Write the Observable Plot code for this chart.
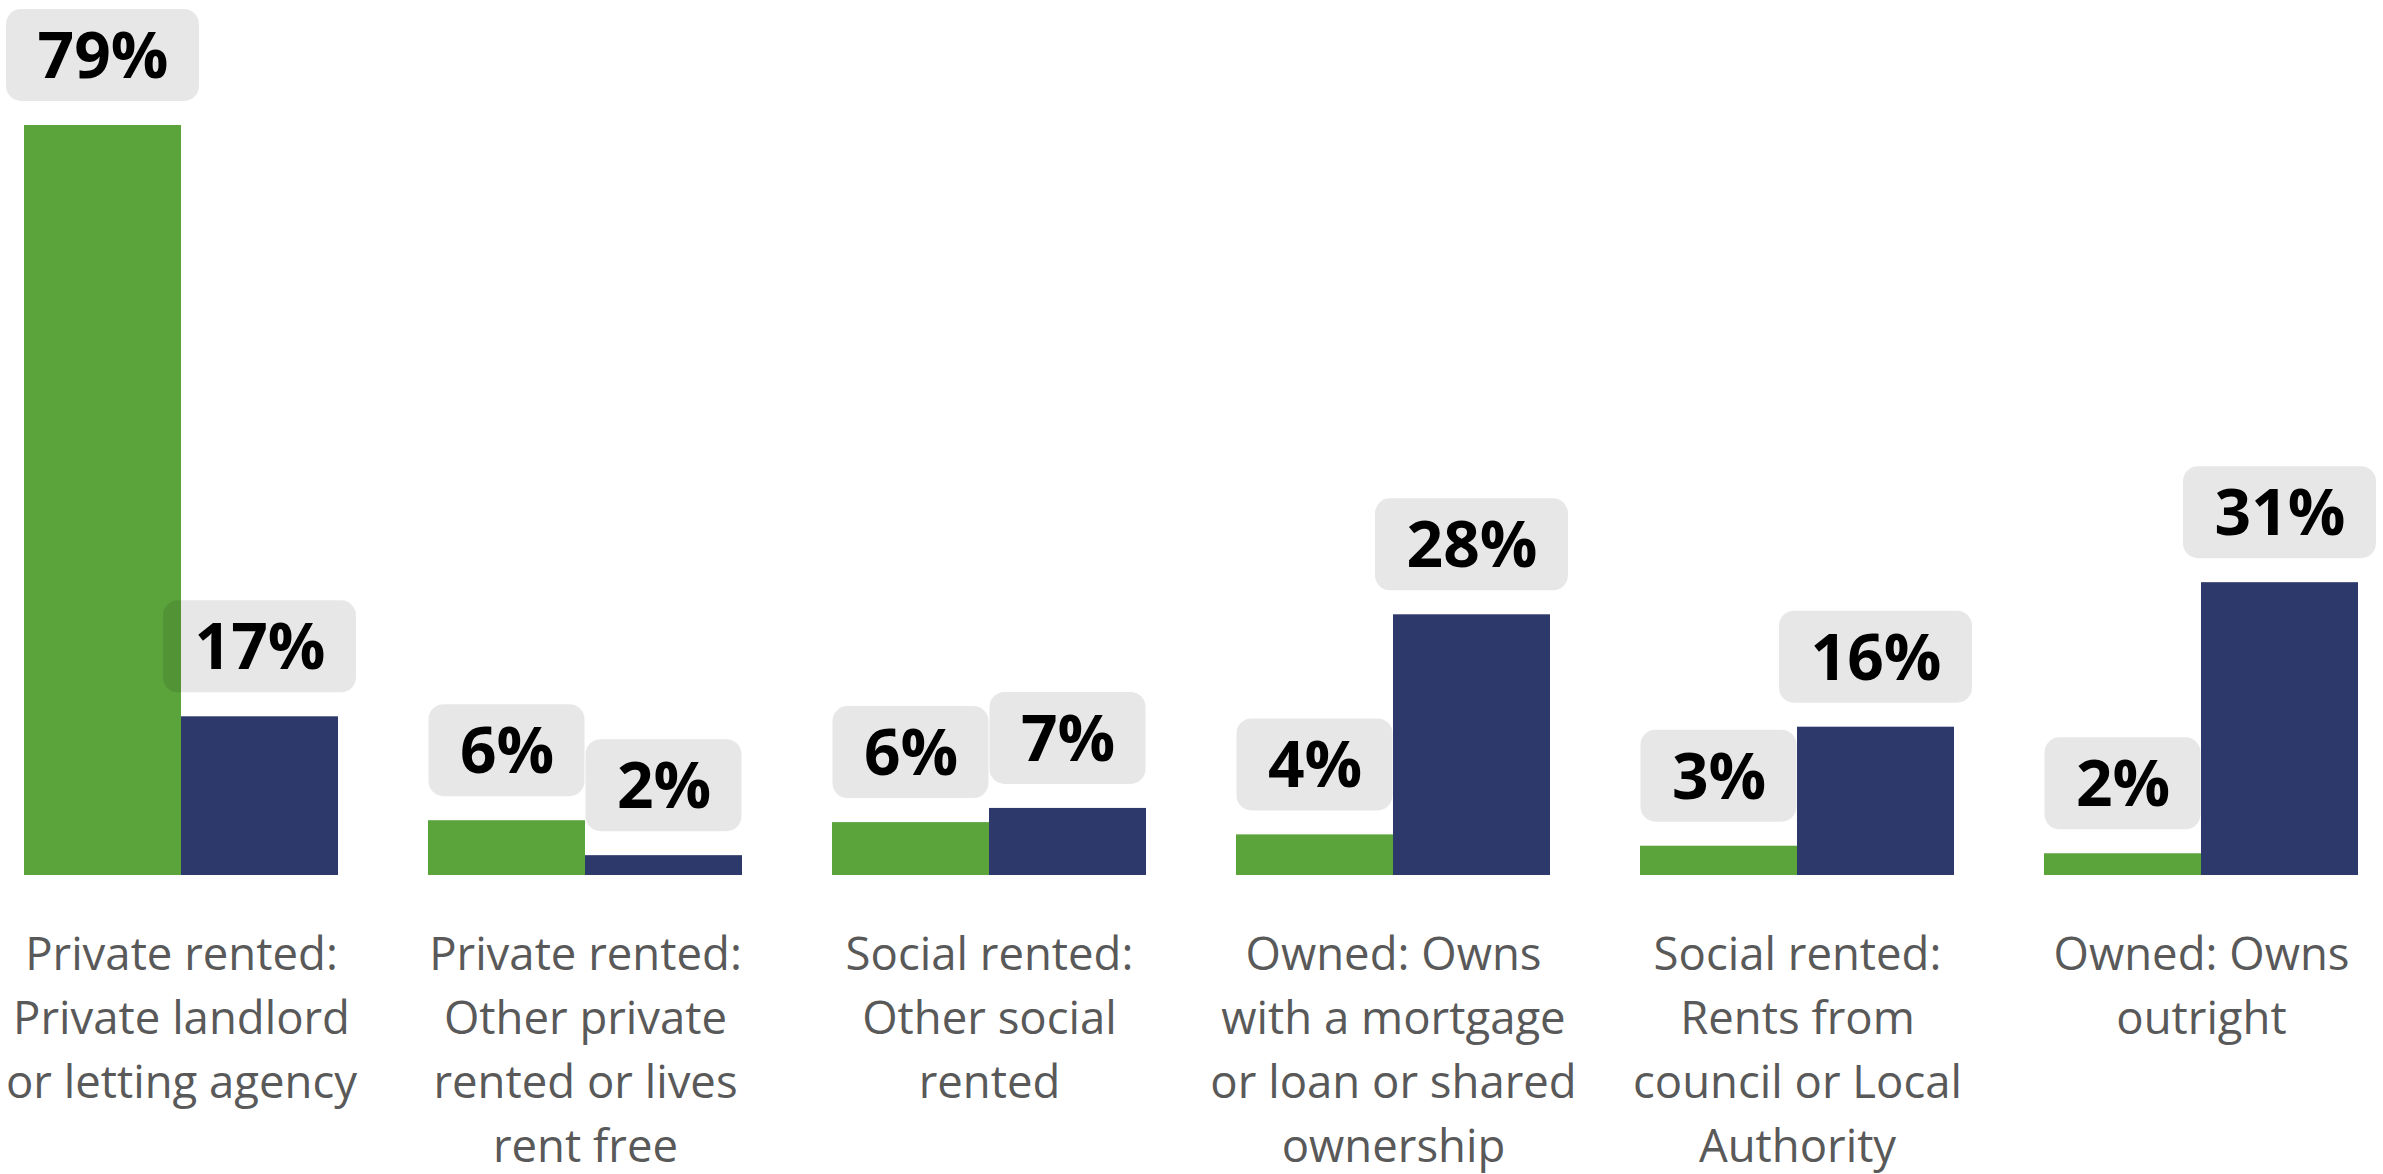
<!DOCTYPE html>
<html>
<head>
<meta charset="utf-8">
<script src="https://cdn.jsdelivr.net/npm/d3@7"></script>
<script src="https://cdn.jsdelivr.net/npm/@observablehq/plot@0.6"></script>
<style>
  html, body { margin: 0; padding: 0; background: #ffffff; }
  #chart svg { display: block; }
</style>
</head>
<body>
<div id="chart"></div>
<script>
// Categories (x groups), in display order
const categories = [
  "Private rented: Private landlord or letting agency",
  "Private rented: Other private rented or lives rent free",
  "Social rented: Other social rented",
  "Owned: Owns with a mortgage or loan or shared ownership",
  "Social rented: Rents from council or Local Authority",
  "Owned: Owns outright"
];
// Wrapped tick labels as shown under each group
const tickLabels = [
  "Private rented:\nPrivate landlord\nor letting agency",
  "Private rented:\nOther private\nrented or lives\nrent free",
  "Social rented:\nOther social\nrented",
  "Owned: Owns\nwith a mortgage\nor loan or shared\nownership",
  "Social rented:\nRents from\ncouncil or Local\nAuthority",
  "Owned: Owns\noutright"
];
// Series names and colours
const seriesNames = ["Series 1", "Series 2"];
const seriesColors = ["#5ba33b", "#2e396b"];
// Values (%)
const series1 = [79.4, 5.8, 5.6, 4.3, 3.1, 2.3];
const series2 = [16.8, 2.1, 7.1, 27.6, 15.7, 31.0];

const data = [];
categories.forEach((c, i) => {
  data.push({category: c, series: seriesNames[0], value: series1[i]});
  data.push({category: c, series: seriesNames[1], value: series2[i]});
});
data.forEach(d => { d.label = Math.round(d.value) + "%"; });
const labelOf = new Map(categories.map((c, i) => [c, tickLabels[i]]));

const font = "'Open Sans', 'Noto Sans', sans-serif";

const chart = Plot.plot({
  width: 2383,
  height: 1174,
  marginLeft: 24,
  marginRight: 25,
  marginTop: 125,
  marginBottom: 299,
  style: {fontFamily: font, background: "#ffffff"},
  fx: {domain: categories, paddingInner: 0.2228, paddingOuter: 0, label: null},
  x: {domain: seriesNames, padding: 0, axis: null},
  y: {domain: [0, 79.4], axis: null},
  color: {domain: seriesNames, range: seriesColors},
  marks: [
    Plot.barY(data, {fx: "category", x: "series", y: "value", fill: "series"}),
    // label backgrounds: 2-digit labels wider than the bar
    Plot.barY(data.filter(d => d.label.length > 2), {
      fx: "category", x: "series", y1: "value", y2: "value",
      insetTop: -116, insetBottom: 24, insetLeft: -18, insetRight: -18,
      rx: 15, fill: "#000000", fillOpacity: 0.094
    }),
    Plot.barY(data.filter(d => d.label.length <= 2), {
      fx: "category", x: "series", y1: "value", y2: "value",
      insetTop: -116, insetBottom: 24, insetLeft: 0.5, insetRight: 0.5,
      rx: 15, fill: "#000000", fillOpacity: 0.094
    }),
    Plot.text(data, {
      fx: "category", x: "series", y: "value", text: "label",
      dy: -68, lineAnchor: "middle", fontSize: 64, fontWeight: "bold",
      fill: "#000000", fontFamily: font
    }),
    Plot.axisFx({
      anchor: "bottom", tickSize: 0, tickPadding: 49, label: null,
      tickFormat: c => labelOf.get(c), fontSize: 45.5, lineHeight: 1.405,
      fill: "#595959", fontFamily: font
    })
  ]
});
document.getElementById("chart").appendChild(chart);
</script>
</body>
</html>
